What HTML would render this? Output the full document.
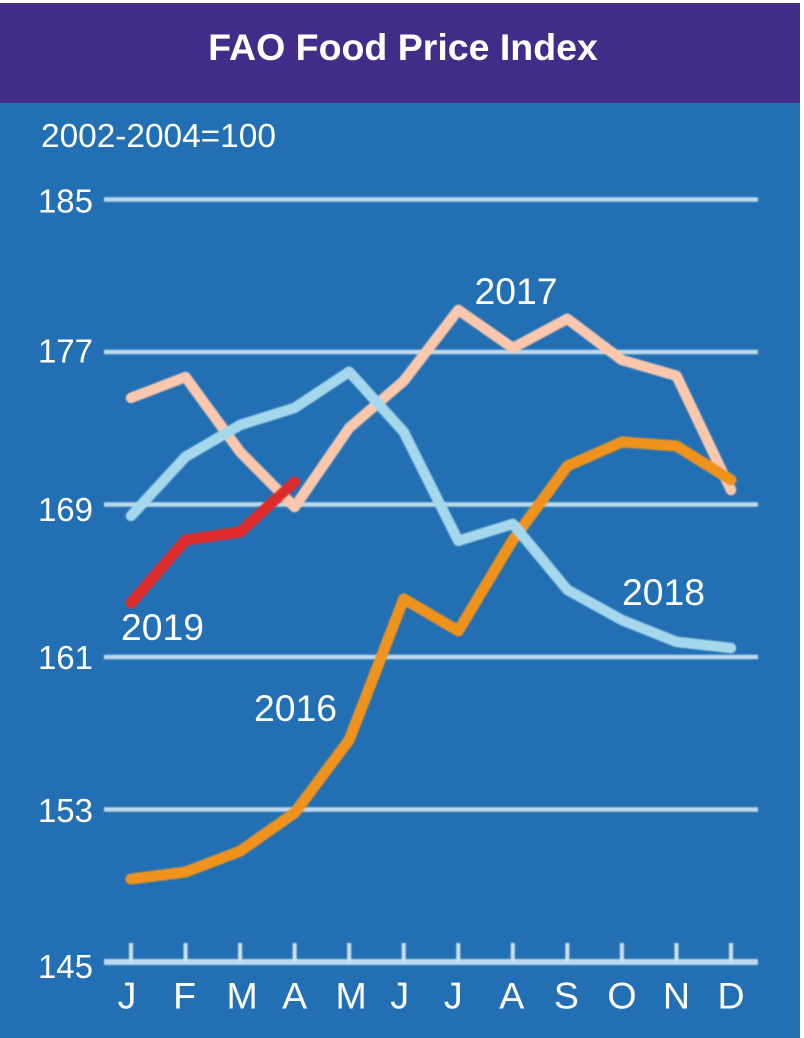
<!DOCTYPE html>
<html lang="en">
<head>
<meta charset="utf-8">
<title>FAO Food Price Index</title>
<style>
  html, body { margin: 0; padding: 0; background: #fff; }
  svg { display: block; }
  text { font-family: "Liberation Sans", sans-serif; fill: #fff; }
</style>
</head>
<body>
<svg id="chart" xmlns="http://www.w3.org/2000/svg" width="804" height="1038" viewBox="0 0 804 1038">
  <defs>
    <filter id="softAll" filterUnits="userSpaceOnUse" x="0" y="0" width="804" height="1038"><feGaussianBlur stdDeviation="0.7"/></filter>
  </defs>
  <rect x="0" y="3" width="800" height="1035" fill="#2270b3"/>
  <rect x="0" y="3" width="800" height="100" fill="#412d87"/>
  <text x="403" y="60" text-anchor="middle" font-size="37.5" font-weight="700">FAO Food Price Index</text>
  <text x="41" y="147" font-size="33.4">2002-2004=100</text>
  <g id="grid" filter="url(#softAll)"></g>
  <g id="ticks" filter="url(#softAll)"></g>
  <g id="yLabels"></g>
  <g id="xLabels"></g>
  <g id="series" filter="url(#softAll)"></g>
  <text x="474.5" y="304" font-size="37.3">2017</text>
  <text x="622" y="605" font-size="37.3">2018</text>
  <text x="121" y="640" font-size="37.3">2019</text>
  <text x="254" y="721" font-size="37.3">2016</text>
</svg>
<script>
const months = ['J','F','M','A','M','J','J','A','S','O','N','D'];
const yTicks = [145, 153, 161, 169, 177, 185];
const values2016 = [149.35, 149.72, 150.82, 152.82, 156.65, 164.05, 162.37, 167.14, 171.02, 172.28, 172.07, 170.29];
const values2017 = [174.59, 175.69, 171.76, 168.87, 173.02, 175.48, 179.21, 177.21, 178.74, 176.58, 175.75, 169.76];
const values2018 = [168.40, 171.50, 173.17, 174.07, 175.96, 172.81, 167.09, 167.98, 164.52, 162.94, 161.79, 161.47];
const values2019 = [163.84, 167.14, 167.56, 170.18];

const NS = 'http://www.w3.org/2000/svg';
const xAt = i => 131 + i * (731 - 131) / 11;
const yAt = v => 962 - (v - 145) * (962 - 199.5) / 40;
// Hand-set optical shifts of the axis labels, in pixels, matching the original typesetting.
const monthShift = [-4, -1, 2, 0, 2, -4, -5, -1, -1, 0, 0, 0];
const yLabelShift = [16, 12.7, 12, 16.5, 10.7, 13];

function make(tag, attrs, parent) {
  const el = document.createElementNS(NS, tag);
  for (const k in attrs) el.setAttribute(k, attrs[k]);
  parent.appendChild(el);
  return el;
}

const grid = document.getElementById('grid');
const ticks = document.getElementById('ticks');
const yLabels = document.getElementById('yLabels');
const xLabels = document.getElementById('xLabels');
const series = document.getElementById('series');

yTicks.forEach((v, i) => {
  const line = make('line', {x1: 104, x2: 758, y1: yAt(v), y2: yAt(v), stroke: '#bcdaee', 'stroke-width': v === 145 ? 6 : 4.5}, grid);
  
  
  const label = make('text', {x: 93, y: yAt(v) + yLabelShift[i], 'text-anchor': 'end', 'font-size': 33}, yLabels);
  
  
  label.textContent = v;
});

months.forEach((m, i) => {
  const tick = make('line', {x1: xAt(i), x2: xAt(i), y1: 943, y2: yAt(145), stroke: '#cfe3f2', 'stroke-width': 4}, ticks);
  
  
  const label = make('text', {x: xAt(i) + monthShift[i], y: 1008.5, 'text-anchor': 'middle', 'font-size': 37.5}, xLabels);
  
  
  label.textContent = m;
});

function drawLine(values, color, width, name) {
  const d = values.map((v, i) => (i ? 'L' : 'M') + xAt(i).toFixed(1) + ' ' + yAt(v).toFixed(1)).join(' ');
  const path = make('path', {d: d, fill: 'none', stroke: color, 'stroke-width': width, 'stroke-linejoin': 'round', 'stroke-linecap': 'round'}, series);
  
  
}
drawLine(values2017, '#fbc8ae', 10.5, 'line-2017');
drawLine(values2016, '#f0931e', 11, 'line-2016');
drawLine(values2018, '#a5d8ec', 10.5, 'line-2018');
drawLine(values2019, '#dd2a2c', 11, 'line-2019');
</script>
</body>
</html>
